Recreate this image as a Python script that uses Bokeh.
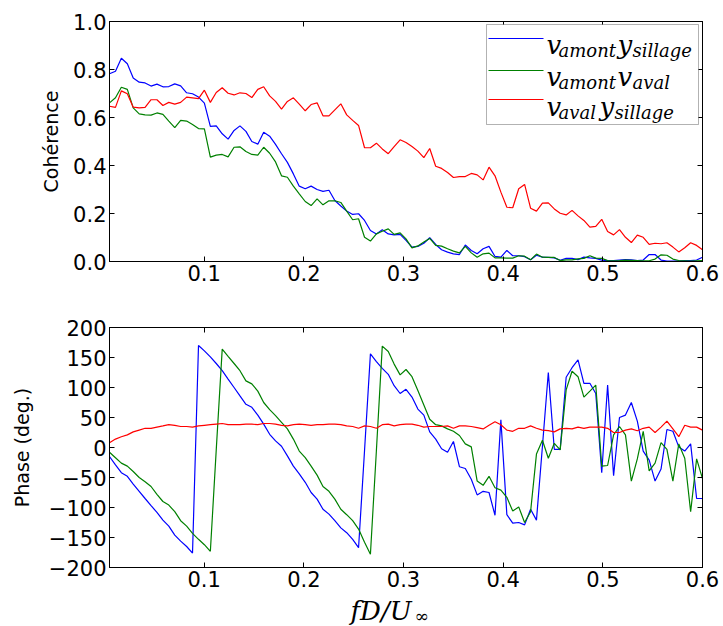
from bokeh.plotting import figure
from bokeh.layouts import column
from bokeh.models import Range1d, LinearAxis, FixedTicker, Label, BoxAnnotation, Arrow
from bokeh.embed import file_html
from bokeh.resources import INLINE

# ---------------- data ----------------
freq = [0.0050, 0.0110, 0.0169, 0.0229, 0.0288, 0.0348, 0.0407, 0.0467, 0.0526, 0.0586,
        0.0645, 0.0705, 0.0764, 0.0824, 0.0883, 0.0943, 0.1002, 0.1062, 0.1121, 0.1181,
        0.1240, 0.1300, 0.1359, 0.1419, 0.1478, 0.1538, 0.1597, 0.1657, 0.1716, 0.1776,
        0.1835, 0.1895, 0.1954, 0.2014, 0.2073, 0.2133, 0.2192, 0.2252, 0.2311, 0.2371,
        0.2430, 0.2490, 0.2549, 0.2609, 0.2668, 0.2728, 0.2787, 0.2847, 0.2906, 0.2966,
        0.3025, 0.3085, 0.3144, 0.3204, 0.3263, 0.3323, 0.3382, 0.3442, 0.3501, 0.3561,
        0.3620, 0.3680, 0.3739, 0.3799, 0.3858, 0.3918, 0.3977, 0.4037, 0.4096, 0.4156,
        0.4215, 0.4275, 0.4334, 0.4394, 0.4453, 0.4513, 0.4572, 0.4632, 0.4691, 0.4751,
        0.4810, 0.4870, 0.4929, 0.4989, 0.5048, 0.5108, 0.5167, 0.5227, 0.5286, 0.5346,
        0.5405, 0.5465, 0.5524, 0.5584, 0.5643, 0.5703, 0.5762, 0.5822, 0.5881, 0.5941,
        0.6000]

coh_vamont_ysillage = [
    0.782, 0.793, 0.847, 0.824, 0.765, 0.747, 0.744, 0.731, 0.739, 0.728,
    0.729, 0.740, 0.732, 0.703, 0.699, 0.685, 0.660, 0.563, 0.565, 0.532,
    0.510, 0.546, 0.565, 0.542, 0.500, 0.489, 0.539, 0.522, 0.488, 0.449,
    0.413, 0.365, 0.314, 0.303, 0.314, 0.300, 0.292, 0.297, 0.254, 0.231,
    0.210, 0.196, 0.199, 0.171, 0.129, 0.115, 0.132, 0.115, 0.111, 0.113,
    0.088, 0.060, 0.063, 0.076, 0.099, 0.071, 0.049, 0.039, 0.032, 0.029,
    0.069, 0.046, 0.032, 0.053, 0.063, 0.021, 0.018, 0.046, 0.024, 0.024,
    0.020, 0.007, 0.026, 0.018, 0.017, 0.015, 0.005, 0.013, 0.013, 0.008,
    0.018, 0.015, 0.013, 0.006, 0.004, 0.004, 0.006, 0.008, 0.007, 0.004,
    0.006, 0.029, 0.029, 0.006, 0.002, 0.002, 0.003, 0.004, 0.004, 0.006,
    0.018]

coh_vamont_vaval = [
    0.661, 0.682, 0.726, 0.717, 0.640, 0.615, 0.611, 0.610, 0.619, 0.613,
    0.585, 0.558, 0.588, 0.585, 0.571, 0.554, 0.553, 0.435, 0.443, 0.446,
    0.436, 0.476, 0.478, 0.458, 0.446, 0.443, 0.476, 0.451, 0.415, 0.357,
    0.351, 0.314, 0.282, 0.250, 0.233, 0.261, 0.236, 0.253, 0.253, 0.246,
    0.210, 0.174, 0.178, 0.101, 0.085, 0.115, 0.126, 0.136, 0.113, 0.119,
    0.094, 0.057, 0.065, 0.081, 0.096, 0.067, 0.064, 0.053, 0.043, 0.036,
    0.063, 0.036, 0.018, 0.032, 0.035, 0.015, 0.015, 0.014, 0.014, 0.024,
    0.022, 0.007, 0.031, 0.018, 0.017, 0.017, 0.004, 0.007, 0.007, 0.011,
    0.013, 0.024, 0.014, 0.013, 0.004, 0.003, 0.004, 0.006, 0.005, 0.004,
    0.003, 0.003, 0.010, 0.028, 0.026, 0.010, 0.004, 0.003, 0.002, 0.003,
    0.004]

coh_vaval_ysillage = [
    0.647, 0.642, 0.711, 0.699, 0.643, 0.640, 0.642, 0.674, 0.674, 0.650,
    0.663, 0.656, 0.663, 0.685, 0.682, 0.679, 0.714, 0.663, 0.704, 0.724,
    0.701, 0.694, 0.703, 0.700, 0.683, 0.717, 0.728, 0.690, 0.667, 0.635,
    0.667, 0.682, 0.656, 0.628, 0.654, 0.661, 0.607, 0.607, 0.632, 0.657,
    0.611, 0.588, 0.567, 0.474, 0.474, 0.493, 0.469, 0.449, 0.479, 0.507,
    0.496, 0.479, 0.460, 0.433, 0.471, 0.397, 0.388, 0.371, 0.350, 0.354,
    0.354, 0.367, 0.361, 0.340, 0.393, 0.357, 0.289, 0.226, 0.224, 0.303,
    0.321, 0.222, 0.210, 0.243, 0.244, 0.219, 0.201, 0.194, 0.213, 0.190,
    0.171, 0.143, 0.146, 0.176, 0.125, 0.111, 0.133, 0.101, 0.079, 0.110,
    0.101, 0.071, 0.076, 0.074, 0.078, 0.060, 0.040, 0.057, 0.078, 0.067,
    0.049]

phase_vamont_ysillage = [
    -15, -29, -42, -48, -61, -73, -85, -97, -108, -121,
    -131, -146, -156, -165, -176, 170, 161, 151, 140, 128,
    114, 100, 86, 72, 67, 54, 39, 22, 11, 2,
    -14, -31, -44, -58, -75, -86, -103, -111, -122, -134,
    -142, -153, -167, -5, 156, 143, 132, 122, 103, 90,
    97, 84, 64, 54, 26, 14, -2, -8, 10, -32,
    -35, -53, -79, -73, -75, -113, 46, -112, -126, -125,
    -129, -103, -121, 2, 125, -3, -3, 117, 133, 146,
    107, 107, 90, -42, 104, -47, 50, 54, 75, 44,
    -6, -21, -56, -36, 30, 27, 1, -6, 6, -85,
    -85]

phase_vamont_vaval = [
    -8, -17, -26, -31, -40, -50, -57, -65, -78, -90,
    -96, -107, -122, -131, -143, -153, -162, -173, -4, 164,
    152, 140, 128, 111, 106, 94, 75, 63, 53, 42,
    31, 14, -6, -17, -31, -46, -65, -73, -86, -103,
    -112, -122, -136, -158, -178, -5, 169, 160, 139, 121,
    130, 118, 95, 71, 47, 38, 36, 31, 27, 20,
    6, 1, -56, -63, -48, -67, -71, -83, -106, -99,
    -125, -107, -11, 12, -18, 7, -4, 96, 127, 118,
    84, 94, 104, -31, -30, 21, 35, 21, -56, -19,
    27, -39, -26, 8, -3, -56, 6, -18, -107, -19,
    -52]

phase_vaval_ysillage = [
    8, 14, 18, 21, 26, 29, 32, 32, 34, 36,
    38, 37, 35, 35, 34, 36, 37, 38, 39, 40,
    38, 38, 38, 39, 39, 38, 40, 40, 39, 37,
    36, 38, 39, 38, 37, 38, 38, 39, 39, 38,
    36, 35, 32, 36, 35, 32, 38, 39, 36, 38,
    39, 39, 37, 34, 35, 35, 35, 36, 32, 36,
    36, 35, 33, 31, 37, 43, 38, 29, 27, 32,
    32, 36, 32, 29, 28, 26, 31, 32, 31, 34,
    32, 34, 34, 34, 32, 25, 25, 29, 31, 28,
    32, 34, 25, 34, 44, 31, 18, 37, 34, 34,
    29]

x_ticks = [0.1, 0.2, 0.3, 0.4, 0.5, 0.6]
x_tick_labels = ["0.1", "0.2", "0.3", "0.4", "0.5", "0.6"]
coh_ticks = [0.0, 0.2, 0.4, 0.6, 0.8, 1.0]
coh_tick_labels = ["0.0", "0.2", "0.4", "0.6", "0.8", "1.0"]
phase_ticks = [-200, -150, -100, -50, 0, 50, 100, 150, 200]
phase_tick_labels = ["\u2212200", "\u2212150", "\u2212100", "\u221250", "0",
                     "50", "100", "150", "200"]

series_colors = ["#0000ff", "#008000", "#ff0000"]

# ---------------- layout constants (page pixels) ----------------
PAGE_W = 723
X_MIN, X_MAX = 0.005, 0.6
FRAME_W, FRAME_H = 593, 240
FRAME_LEFT = 109
TOP_FRAME_TOP = 21
P1_H = 298
P2_TOP_BORDER = 29
P2_BOTTOM_BORDER = 27
P2_H = P2_TOP_BORDER + FRAME_H + P2_BOTTOM_BORDER
P3_H = 626 - P1_H - P2_H
P3_TOP = P1_H + P2_H
TICK_FONT = "DejaVu Sans"
TICK_SIZE = "21px"
MATH_FONT = "DejaVu Serif"
DESCENT = 0.236


def style_axis(ax, ticks, labels, show_labels, standoff):
    ax.ticker = FixedTicker(ticks=ticks)
    ax.major_label_overrides = {t: (l if show_labels else "") for t, l in zip(ticks, labels)}
    ax.major_tick_in = 5
    ax.major_tick_out = 0
    ax.minor_tick_in = 0
    ax.minor_tick_out = 0
    ax.axis_line_color = "black"
    ax.axis_line_width = 1
    ax.major_tick_line_color = "black"
    ax.major_tick_line_width = 1
    ax.major_label_text_font = TICK_FONT
    ax.major_label_text_font_size = TICK_SIZE
    ax.major_label_text_color = "black"
    ax.major_label_standoff = standoff


def make_fig(height, top, bottom, y_range, yticks, ylabels, ylabel, standoff):
    p = figure(width=PAGE_W, height=height, x_range=Range1d(X_MIN, X_MAX), y_range=y_range,
               output_backend="svg", toolbar_location=None,
               min_border_left=FRAME_LEFT, min_border_right=PAGE_W - FRAME_LEFT - FRAME_W,
               min_border_top=top, min_border_bottom=bottom)
    p.xgrid.visible = False
    p.ygrid.visible = False
    p.outline_line_color = "black"
    p.outline_line_width = 1
    p.background_fill_color = "white"
    p.border_fill_color = "white"
    style_axis(p.xaxis[0], x_ticks, x_tick_labels, True, 3)
    style_axis(p.yaxis[0], yticks, ylabels, True, 3)
    top_ax = LinearAxis()
    style_axis(top_ax, x_ticks, x_tick_labels, False, 3)
    right_ax = LinearAxis()
    style_axis(right_ax, yticks, ylabels, False, 3)
    p.add_layout(top_ax, "above")
    p.add_layout(right_ax, "right")
    p.yaxis[0].axis_label = ylabel
    p.yaxis[0].axis_label_text_font = TICK_FONT
    p.yaxis[0].axis_label_text_font_size = "19px"
    p.yaxis[0].axis_label_text_font_style = "normal"
    p.yaxis[0].axis_label_text_color = "black"
    p.yaxis[0].axis_label_standoff = standoff
    return p


def tx(px):
    return X_MIN + (px - FRAME_LEFT) * (X_MAX - X_MIN) / FRAME_W


def ty(py):
    return (TOP_FRAME_TOP + FRAME_H - py) / FRAME_H


def math_label(text, x, y, size, italic=True):
    return Label(x=x, y=y, text=text, text_font=MATH_FONT,
                 text_font_style="italic" if italic else "normal",
                 text_font_size=f"{size}px", text_baseline="bottom",
                 text_align="left", text_color="black")


# ---------------- top panel: coherence ----------------
p1 = make_fig(P1_H, TOP_FRAME_TOP, P1_H - TOP_FRAME_TOP - FRAME_H, Range1d(0.0, 1.0),
              coh_ticks, coh_tick_labels, "Cohérence", 8)
for ys, c in zip([coh_vamont_ysillage, coh_vamont_vaval, coh_vaval_ysillage], series_colors):
    p1.line(freq, ys, line_color=c, line_width=1.2)

# legend, built by hand so that the labels can carry subscripts
p1.add_layout(BoxAnnotation(left=tx(486), right=tx(698), top=ty(24), bottom=ty(124),
                            fill_color="white", fill_alpha=1.0, line_color="black",
                            line_width=1, level="annotation"))
MAIN, SUB = 26, 18
legend_rows = [
    (38, 53, [("v", 546, False), ("amont", 558, True), ("y", 617, False), ("sillage", 632, True)]),
    (70, 85, [("v", 546, False), ("amont", 558, True), ("v", 617, False), ("aval", 632, True)]),
    (99, 115, [("v", 546, False), ("aval", 558, True), ("y", 599, False), ("sillage", 614, True)]),
]
for (line_py, base_py, parts), c in zip(legend_rows, series_colors):
    p1.add_layout(Arrow(x_start=tx(488), y_start=ty(line_py), x_end=tx(543), y_end=ty(line_py),
                        start=None, end=None, line_color=c, line_width=1.2))
    for txt, px, sub in parts:
        size = SUB if sub else MAIN
        base = base_py + (3 if sub else 0)
        p1.add_layout(math_label(txt, tx(px), ty(base + DESCENT * size), size))

# ---------------- bottom panel: phase ----------------
p2 = make_fig(P2_H, P2_TOP_BORDER, P2_BOTTOM_BORDER, Range1d(-200, 200),
              phase_ticks, phase_tick_labels, "Phase (deg.)", 13)
for ys, c in zip([phase_vamont_ysillage, phase_vamont_vaval, phase_vaval_ysillage], series_colors):
    p2.line(freq, ys, line_color=c, line_width=1.2)

# ---------------- x label strip (same frame geometry as the panels) ----------------
p3 = figure(width=PAGE_W, height=P3_H, x_range=Range1d(X_MIN, X_MAX), y_range=Range1d(P3_H, 0),
            x_axis_type=None, y_axis_type=None, output_backend="svg", toolbar_location=None,
            min_border_left=FRAME_LEFT, min_border_right=PAGE_W - FRAME_LEFT - FRAME_W,
            min_border_top=0, min_border_bottom=0)
p3.outline_line_color = None
p3.xgrid.visible = False
p3.ygrid.visible = False
p3.background_fill_color = "white"
p3.border_fill_color = "white"
XL_MAIN, XL_SUB = 26, 17
p3.add_layout(math_label("fD/U", tx(350), 619 + DESCENT * XL_MAIN - P3_TOP, XL_MAIN))
p3.add_layout(math_label("\u221e", tx(414), 621.5 + DESCENT * XL_SUB - P3_TOP, XL_SUB, italic=False))

layout = column(p1, p2, p3, spacing=0)
open("out.html", "w").write(file_html(layout, INLINE))
